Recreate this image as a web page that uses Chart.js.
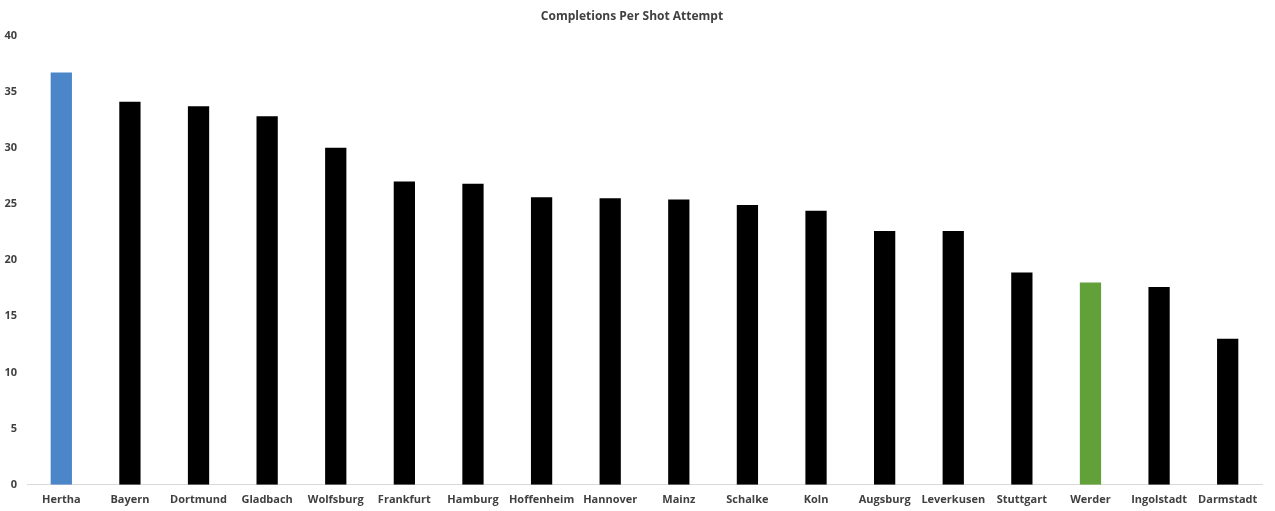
<!DOCTYPE html>
<html>
<head>
<meta charset="utf-8">
<script src="https://cdn.jsdelivr.net/npm/chart.js@4"></script>
<style>
  html, body { margin: 0; padding: 0; background: #fff; }
  #wrap { width: 1275px; height: 511px; }
</style>
</head>
<body>
<div id="wrap"><canvas id="chart"></canvas></div>
<script>
const teams = ['Hertha', 'Bayern', 'Dortmund', 'Gladbach', 'Wolfsburg', 'Frankfurt', 'Hamburg',
  'Hoffenheim', 'Hannover', 'Mainz', 'Schalke', 'Koln', 'Augsburg', 'Leverkusen',
  'Stuttgart', 'Werder', 'Ingolstadt', 'Darmstadt'];
const completions = [36.7, 34.1, 33.7, 32.8, 30.0, 27.0, 26.8, 25.6, 25.5, 25.4, 24.9, 24.4,
  22.6, 22.6, 18.9, 18.0, 17.6, 13.0];
const yTicks = [0, 5, 10, 15, 20, 25, 30, 35, 40];

function barColor(team) {
  if (team === 'Hertha') return '#4a86c8';
  if (team === 'Werder') return '#62a03a';
  return '#000000';
}

const textColor = '#404040';
const fontFamily = '"Open Sans", "Liberation Sans", sans-serif';

new Chart(document.getElementById('chart'), {
  type: 'bar',
  data: {
    labels: teams,
    datasets: [{
      label: 'Completions Per Shot Attempt',
      data: completions,
      backgroundColor: teams.map(barColor),
      barPercentage: 0.62,
      categoryPercentage: 0.5
    }]
  },
  options: {
    responsive: true,
    maintainAspectRatio: false,
    animation: false,
    layout: { padding: { left: 2, right: 13, top: 9, bottom: -3 } },
    plugins: {
      legend: { display: false },
      tooltip: { enabled: false },
      title: {
        display: true,
        text: 'Completions Per Shot Attempt',
        color: textColor,
        font: { family: fontFamily, size: 12, weight: 'bold' },
        padding: { top: 0, bottom: 12 }
      }
    },
    scales: {
      x: {
        grid: { display: false, drawTicks: false },
        border: { display: true, color: '#d9d9d9', width: 1 },
        ticks: {
          color: textColor,
          font: { family: fontFamily, size: 11, weight: 'bold' },
          padding: 8,
          maxRotation: 0,
          autoSkip: false
        }
      },
      y: {
        min: 0,
        max: 40,
        afterBuildTicks: axis => { axis.ticks = yTicks.map(v => ({ value: v })); },
        afterFit: axis => { axis.width = 25; },
        grid: { display: false, drawTicks: false },
        border: { display: false },
        ticks: {
          color: textColor,
          font: { family: fontFamily, size: 11, weight: 'bold' },
          padding: 10
        }
      }
    }
  }
});
</script>
</body>
</html>
